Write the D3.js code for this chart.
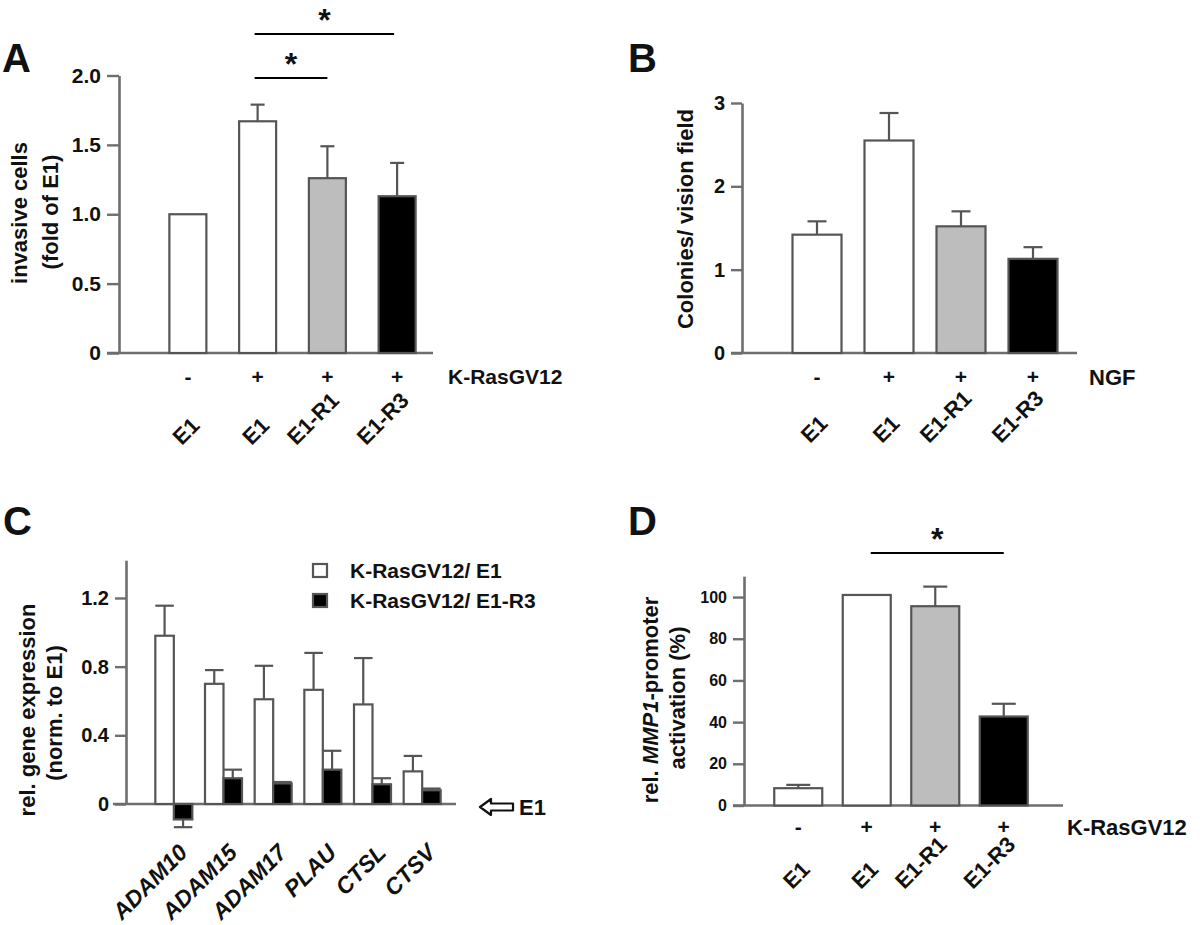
<!DOCTYPE html>
<html>
<head>
<meta charset="utf-8">
<script src="https://cdn.jsdelivr.net/npm/d3@7"></script>
<style>
  body { margin: 0; background: #fff; }
  svg text { font-family: "Liberation Sans", Arial, Helvetica, sans-serif; font-weight: bold; fill: #111; }
</style>
</head>
<body>
<svg id="fig" width="1200" height="925"></svg>
<script>
// shared categories (A, B, D)
const groups = ["E1", "E1", "E1-R1", "E1-R3"];
const treatSigns = ["-", "+", "+", "+"];
const barFills = ["#ffffff", "#ffffff", "#bdbdbd", "#000000"];

// A: invasive cells (fold of E1)
const invasionMean = [1.0, 1.67, 1.26, 1.13];
const invasionErr = [0, 0.12, 0.23, 0.24];
const invasionTicks = [0, 0.5, 1.0, 1.5, 2.0];

// B: colonies / vision field
const colonyMean = [1.42, 2.55, 1.52, 1.13];
const colonyErr = [0.16, 0.33, 0.18, 0.14];
const colonyTicks = [0, 1, 2, 3];

// C: rel. gene expression
const genes = ["ADAM10", "ADAM15", "ADAM17", "PLAU", "CTSL", "CTSV"];
const seriesC = ["K-RasGV12/ E1", "K-RasGV12/ E1-R3"];
const exprE1 = [0.98, 0.70, 0.61, 0.665, 0.58, 0.19];
const exprE1Err = [0.175, 0.08, 0.195, 0.215, 0.27, 0.09];
const exprR3 = [-0.09, 0.15, 0.12, 0.20, 0.115, 0.08];
const exprR3Err = [0.045, 0.05, 0.008, 0.11, 0.035, 0.01];
const exprTicks = [0, 0.4, 0.8, 1.2];

// D: MMP1 promoter activation (%)
const promoterMean = [8.3, 101, 95.6, 42.7];
const promoterErr = [1.6, 0, 9.4, 6.1];
const promoterTicks = [0, 20, 40, 60, 80, 100];

const svg = d3.select("#fig");
const axisGrey = "#6e6e6e";
const barLine = "#555";

function yAxis(g, y, axisX, tickLen, ticks, fmt, size) {
  const ax = g.append("g")
    .attr("transform", `translate(${axisX},0)`)
    .call(d3.axisLeft(y).tickValues(ticks).tickFormat(fmt)
      .tickSize(tickLen).tickSizeOuter(0).tickPadding(6));
  ax.select(".domain").attr("stroke", axisGrey).attr("stroke-width", 2.6);
  ax.selectAll(".tick line").attr("stroke", axisGrey).attr("stroke-width", 2.4);
  ax.selectAll(".tick text").attr("font-size", size).attr("fill", "#111")
    .style("font-family", '"Liberation Sans", Arial, sans-serif').style("font-weight", "bold");
  return ax;
}

function xLine(g, x1, x2, yv) {
  g.append("line").attr("x1", x1).attr("x2", x2).attr("y1", yv).attr("y2", yv)
    .attr("stroke", axisGrey).attr("stroke-width", 2.6);
}

function bars(g, cx, y, means, errs, fills, w, capW) {
  g.selectAll(null).data(means).join("rect")
    .attr("x", (d, i) => cx(i) - w / 2)
    .attr("y", d => Math.min(y(d), y(0)))
    .attr("width", w)
    .attr("height", d => Math.abs(y(0) - y(d)))
    .attr("fill", (d, i) => fills[i])
    .attr("stroke", barLine).attr("stroke-width", 2.2);
  const eb = g.selectAll(null).data(means.map((m, i) => ({ m, e: errs[i], i })).filter(d => d.e > 0))
    .join("g").attr("stroke", barLine).attr("stroke-width", 2.2);
  eb.append("line")
    .attr("x1", d => cx(d.i)).attr("x2", d => cx(d.i))
    .attr("y1", d => y(d.m))
    .attr("y2", d => y(d.m + Math.sign(d.m) * d.e));
  eb.append("line")
    .attr("x1", d => cx(d.i) - capW / 2).attr("x2", d => cx(d.i) + capW / 2)
    .attr("y1", d => y(d.m + Math.sign(d.m) * d.e))
    .attr("y2", d => y(d.m + Math.sign(d.m) * d.e));
}

// rotated labels: end x fixed relative to the bar, either start-y or end-y fixed
function catLabels(g, texts, cx, endDx, baseY, size, italic, startFixed) {
  g.selectAll(null).data(texts).join("text")
    .text(d => d)
    .attr("text-anchor", "end")
    .attr("font-size", size)
    .attr("font-style", italic ? "italic" : null)
    .each(function (d, i) {
      const L = this.getComputedTextLength();
      const lift = startFixed ? L * Math.SQRT1_2 : 0;
      d3.select(this).attr("transform", `translate(${cx(i) + endDx},${baseY - lift}) rotate(-45)`);
    });
}

function signRow(g, cx, yv, label, labelX, size, labelSize) {
  g.selectAll(null).data(treatSigns).join("text")
    .attr("x", (d, i) => cx(i)).attr("y", yv).attr("dy", "0.35em")
    .attr("text-anchor", "middle").attr("font-size", size).text(d => d);
  g.append("text").attr("x", labelX).attr("y", yv).attr("dy", "0.35em")
    .attr("font-size", labelSize).text(label);
}

function yTitle(g, cx, cy, size, line) {
  const t = g.append("text")
    .attr("transform", `translate(${cx},${cy}) rotate(-90)`)
    .attr("text-anchor", "middle").attr("dy", "0.35em").attr("font-size", size);
  line.forEach(p => t.append("tspan").attr("font-style", p.it ? "italic" : null).text(p.t));
}

function panelLetter(x, yv, s) {
  svg.append("text").attr("x", x).attr("y", yv).attr("font-size", 40).text(s);
}

function sigBar(g, x1, x2, yv) {
  g.append("line").attr("x1", x1).attr("x2", x2).attr("y1", yv).attr("y2", yv)
    .attr("stroke", "#000").attr("stroke-width", 2.2);
  g.append("text").attr("x", (x1 + x2) / 2).attr("y", yv - 3)
    .attr("text-anchor", "middle").attr("font-size", 32).text("*");
}

const fmt1 = d => d === 0 ? "0" : d3.format(".1f")(d);

// ---------- A ----------
{
  const g = svg.append("g");
  const idx = d3.range(groups.length);
  const cx = d3.scalePoint().domain(idx).range([153, 432]).padding(0.5);
  const y = d3.scaleLinear().domain([0, 2]).range([353, 75.5]);
  xLine(g, 107, 433, y(0));
  bars(g, cx, y, invasionMean, invasionErr, barFills, 37, 14);
  yAxis(g, y, 119, 12, invasionTicks, fmt1, 21);
  signRow(g, cx, 377, "K-RasGV12", 448, 21, 21);
  catLabels(g, groups, cx, 13, 446, 22, false, true);
  yTitle(g, 19, 213, 22, [{ t: "invasive cells" }]);
  yTitle(g, 50, 212, 22, [{ t: "(fold of E1)" }]);
  sigBar(g, cx(1) - 3, cx(2), 78);
  sigBar(g, cx(1) - 3, cx(3) - 3, 34);
  panelLetter(2, 72, "A");
}

// ---------- B ----------
{
  const g = svg.append("g");
  const idx = d3.range(groups.length);
  const cx = d3.scalePoint().domain(idx).range([781, 1069]).padding(0.5);
  const y = d3.scaleLinear().domain([0, 3]).range([353, 103]);
  xLine(g, 731, 1077, y(0));
  bars(g, cx, y, colonyMean, colonyErr, barFills, 49, 19);
  yAxis(g, y, 742, 11, colonyTicks, d3.format("d"), 20);
  signRow(g, cx, 377, "NGF", 1089, 21, 22);
  catLabels(g, groups, cx, 12, 444, 22, false, true);
  yTitle(g, 685, 219, 22, [{ t: "Colonies/ vision field" }]);
  panelLetter(628, 72, "B");
}

// ---------- C ----------
{
  const g = svg.append("g");
  const cx = d3.scalePoint().domain(d3.range(genes.length)).range([149, 447]).padding(0.5);
  const y = d3.scaleLinear().domain([0, 1.42]).range([804, 560.2]);
  const bw = 18.5;
  xLine(g, 113, 456, y(0));
  bars(g, i => cx(i) - bw / 2, y, exprE1, exprE1Err, genes.map(() => "#fff"), bw, bw);
  bars(g, i => cx(i) + bw / 2, y, exprR3, exprR3Err, genes.map(() => "#000"), bw, bw);
  yAxis(g, y, 126, 11, exprTicks, d => d === 0 ? "0" : d3.format(".1f")(d), 20);
  catLabels(g, genes, cx, 15, 854, 23, true, false);
  yTitle(g, 27, 710, 22, [{ t: "rel. gene expression" }]);
  yTitle(g, 54, 713, 22, [{ t: "(norm. to E1)" }]);

  const leg = g.append("g");
  seriesC.forEach((s, i) => {
    leg.append("rect").attr("x", 313).attr("y", 564 + i * 30).attr("width", 14).attr("height", 13)
      .attr("fill", i ? "#000" : "#fff").attr("stroke", barLine).attr("stroke-width", 2.2);
    leg.append("text").attr("x", 350).attr("y", 571 + i * 30).attr("dy", "0.35em")
      .attr("font-size", 21).text(s);
  });
  // hollow arrow pointing to the E1 baseline
  const ay = y(0) + 3;
  g.append("path")
    .attr("d", `M480,${ay} l11,-8 v4.5 h22 v7 h-22 v4.5 z`)
    .attr("fill", "#fff").attr("stroke", "#111").attr("stroke-width", 2.2).attr("stroke-linejoin", "round");
  g.append("text").attr("x", 519).attr("y", ay).attr("dy", "0.35em").attr("font-size", 22).text("E1");
  panelLetter(3, 535, "C");
}

// ---------- D ----------
{
  const g = svg.append("g");
  const idx = d3.range(groups.length);
  const cx = d3.scalePoint().domain(idx).range([764, 1038]).padding(0.5);
  const y = d3.scaleLinear().domain([0, 110]).range([805.5, 576.2]);
  xLine(g, 733, 1063, y(0));
  bars(g, cx, y, promoterMean, promoterErr, barFills, 48, 24);
  yAxis(g, y, 744, 11, promoterTicks, d3.format("d"), 16);
  signRow(g, cx, 827, "K-RasGV12", 1067, 21, 22);
  catLabels(g, groups, cx, 13, 890, 22, false, true);
  yTitle(g, 650, 700, 22, [{ t: "rel. " }, { t: "MMP1", it: true }, { t: "-promoter" }]);
  yTitle(g, 677, 698, 22, [{ t: "activation (%)" }]);
  sigBar(g, cx(1) + 4, cx(3), 553);
  panelLetter(628, 535, "D");
}
</script>
</body>
</html>
